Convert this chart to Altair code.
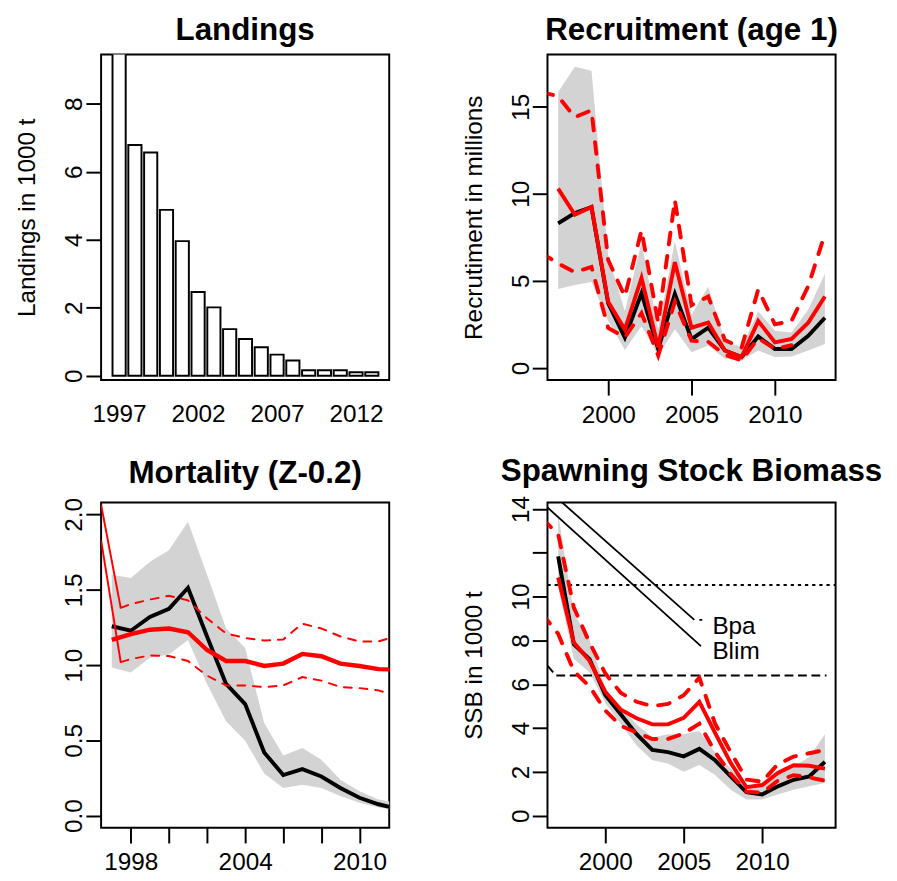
import altair as alt
import pandas as pd

FONT = "Liberation Sans"
FS = 24.8
RED = "#ff0000"
GREY = "#d3d3d3"

# ---------------- data ----------------
# Landings (1000 t)
land_years = list(range(1997, 2014))
landings = [13.0, 6.79, 6.57, 4.88, 3.96, 2.46, 2.01, 1.37, 1.08, 0.84, 0.62, 0.45, 0.16, 0.16, 0.16, 0.10, 0.10]

# Recruitment (millions)
rec_years = list(range(1997, 2014))
rec_black = [8.3, 8.9, 9.23, 3.72, 1.75, 4.29, 1.09, 4.25, 1.65, 2.31, 1.0, 0.62, 1.8, 1.09, 1.09, 1.84, 2.88]
rec_lo = [4.53, 4.76, 4.94, 2.69, 1.03, 2.4, 0.71, 2.22, 0.9, 1.28, 0.53, 0.43, 1.0, 0.62, 0.66, 1.0, 1.37]
rec_hi = [15.85, 17.3, 17.07, 6.45, 3.25, 7.2, 2.22, 7.29, 3.06, 4.66, 1.56, 1.18, 3.25, 2.13, 2.03, 3.35, 5.41]
rec_red = [10.3, 8.8, 9.25, 3.8, 2.2, 5.17, 1.18, 6.07, 2.31, 2.6, 1.0, 0.62, 2.69, 1.47, 1.66, 2.6, 4.1]
rec_red_up_years = list(range(1996, 2014))
rec_red_up = [15.85, 15.6, 14.4, 14.8, 6.2, 4.1, 7.9, 2.6, 9.64, 3.6, 4.1, 1.6, 1.15, 4.5, 2.5, 2.7, 4.7, 7.7]
rec_red_lo_years = list(range(1996, 2012))
rec_red_lo = [6.6, 6.0, 5.5, 5.8, 2.3, 1.75, 3.15, 0.71, 3.8, 1.56, 1.5, 0.75, 0.43, 1.7, 1.1, 1.3]

# Mortality (Z-0.2)
mort_years = list(range(1997, 2013))
mort_black = [1.258, 1.228, 1.319, 1.373, 1.513, 1.19, 0.875, 0.741, 0.42, 0.27, 0.309, 0.26, 0.184, 0.119, 0.076, 0.045]
mort_lo = [0.984, 0.951, 1.048, 1.07, 1.167, 0.875, 0.627, 0.497, 0.281, 0.184, 0.205, 0.184, 0.13, 0.086, 0.054, 0.035]
mort_hi = [1.6, 1.578, 1.686, 1.762, 1.952, 1.6, 1.243, 1.113, 0.616, 0.40, 0.45, 0.372, 0.238, 0.162, 0.108, 0.085]
mort_red = [1.167, 1.206, 1.235, 1.243, 1.218, 1.10, 1.027, 1.027, 0.994, 1.01, 1.074, 1.059, 1.01, 0.994, 0.973, 0.97]
mort_ci_years = [1997.47] + list(range(1998, 2013))
mort_red_up = [1.38, 1.405, 1.435, 1.46, 1.43, 1.31, 1.21, 1.18, 1.163, 1.17, 1.275, 1.243, 1.19, 1.157, 1.157, 1.195]
mort_red_lo = [1.02, 1.04, 1.064, 1.06, 1.027, 0.93, 0.865, 0.865, 0.854, 0.865, 0.92, 0.897, 0.854, 0.847, 0.832, 0.79]
mort_thin_years = [1996.44, 1997.47]
mort_thin_up = [2.064, 1.38]
mort_thin_lo = [1.827, 1.02]

# Spawning stock biomass (1000 t)
ssb_years = list(range(1997, 2015))
ssb_black = [11.84, 7.82, 7.15, 5.51, 4.62, 3.72, 3.0, 2.9, 2.71, 3.05, 2.53, 1.79, 1.07, 0.97, 1.34, 1.64, 1.79, 2.46]
ssb_lo = [10.43, 7.15, 6.55, 5.14, 4.17, 3.2, 2.53, 2.38, 2.01, 2.31, 1.86, 1.19, 0.74, 0.74, 0.97, 1.19, 1.34, 1.49]
ssb_hi = [13.78, 9.23, 8.04, 5.81, 4.91, 4.17, 3.57, 3.72, 3.72, 3.87, 2.9, 2.16, 1.34, 1.41, 1.94, 2.23, 2.68, 3.72]
ssb_red = [10.87, 7.9, 7.07, 5.66, 4.84, 4.45, 4.17, 4.17, 4.47, 5.2, 3.78, 2.4, 1.3, 1.4, 1.95, 2.3, 2.28, 2.15]
ssb_ci_years = list(range(1996, 2015))
ssb_red_up = [13.55, 12.85, 9.5, 7.9, 6.5, 5.6, 5.2, 5.0, 5.1, 5.5, 6.3, 4.2, 2.9, 1.65, 1.55, 2.35, 2.7, 2.85, 3.0]
ssb_red_lo = [9.2, 8.3, 6.6, 5.9, 4.8, 4.1, 3.8, 3.5, 3.5, 3.75, 4.2, 2.9, 1.9, 1.1, 1.05, 1.6, 1.85, 1.75, 1.6]
bpa_value = 10.53
blim_x = [1996.32, 1996.85, 2014.1]
blim_y = [6.85, 6.4, 6.4]
bpa_line_x = [1996.32, 2014.68]
diag_bpa_x = [1996.32, 2005.68]
diag_bpa_y = [14.89, 8.94]
diag_bpa_tick_x = [2006.0, 2006.18]
diag_bpa_tick_y = [8.94, 8.94]
diag_blim_x = [1996.32, 2006.1]
diag_blim_y = [14.07, 7.74]
ref_labels = ["Bpa", "Blim"]
ref_label_x = [2006.83, 2006.83]
ref_label_y = [8.31, 7.14]

W, H = 294, 332


def make_enc(xdom, xvals, ydom, yvals, yfmt, ytitle=None, xexpr=None, yexpr=None, xticks=True):
    def X(f):
        kw = dict(values=xvals, format="d", title=None, labelAngle=0, labelAlign="center",
                  labelBaseline="top", labelFlush=False, labelOverlap=False, grid=False, domain=False,
                  labelFont=FONT, labelFontSize=FS, labelColor="black", tickColor="black", tickWidth=2)
        if xticks:
            kw.update(ticks=True, tickSize=15.5, labelPadding=7.5)
        else:
            kw.update(ticks=False, tickSize=0, labelPadding=22.5)
        if xexpr:
            kw["labelExpr"] = xexpr
        return alt.X(f, type="quantitative",
                     scale=alt.Scale(domain=xdom, nice=False, zero=False),
                     axis=alt.Axis(**kw))

    def Y(f):
        kw = dict(values=yvals, format=yfmt, labelAngle=270, labelAlign="center",
                  labelBaseline="alphabetic", labelPadding=4, tickSize=15.5,
                  labelFlush=False, labelOverlap=False, grid=False, domain=False,
                  labelFont=FONT, labelFontSize=FS, labelColor="black", tickColor="black", tickWidth=2)
        if ytitle:
            kw.update(title=ytitle, titleX=-67.7, titleY=H / 2, titleAngle=270,
                      titleAlign="center", titleBaseline="alphabetic", titleFont=FONT,
                      titleFontSize=FS, titleFontWeight="normal", titleColor="black")
        else:
            kw["title"] = None
        if yexpr:
            kw["labelExpr"] = yexpr
        return alt.Y(f, type="quantitative",
                     scale=alt.Scale(domain=ydom, nice=False, zero=False),
                     axis=alt.Axis(**kw))
    return X, Y


def ttl(text):
    return alt.TitleParams(text, font=FONT, fontSize=32, fontWeight="bold", anchor="middle",
                           frame="group", offset=14.7, dy=31.8, baseline="alphabetic", color="black")


def line(df, X, Y, xf, yf, **mk):
    return alt.Chart(df).mark_line(clip=True, **mk).encode(x=X(xf), y=Y(yf))


def band(df, X, Y):
    return alt.Chart(df).mark_area(clip=True, color=GREY, opacity=1).encode(
        x=X("year"), y=Y("lo"), y2="hi")


# ---------------- panel 1: Landings ----------------
X1, Y1 = make_enc([1995.86, 2014.1], [1997, 2002, 2007, 2012], [-0.124, 9.45], [0, 2, 4, 6, 8], "d",
                  ytitle="Landings in 1000 t", xticks=False)
land_df = pd.DataFrame({"year": land_years, "landings": landings})
p1 = alt.Chart(land_df).transform_calculate(
    x0="datum.year - 0.4167", x1="datum.year + 0.4167"
).mark_bar(fill="white", stroke="black", strokeWidth=2, clip=True).encode(
    x=X1("x0"), x2="x1", y=Y1("landings"), y2=alt.datum(0)
).properties(width=W, height=H, title=ttl("Landings"))

# ---------------- panel 2: Recruitment ----------------
X2, Y2 = make_enc([1996.36, 2013.64], [2000, 2005, 2010], [-0.69, 18.0], [0, 5, 10, 15], "d",
                  ytitle="Recrutiment in millions")
rec_df = pd.DataFrame({"year": rec_years, "black": rec_black, "lo": rec_lo, "hi": rec_hi, "red": rec_red})
rec_up_df = pd.DataFrame({"year": rec_red_up_years, "v": rec_red_up})
rec_lo_df = pd.DataFrame({"year": rec_red_lo_years, "v": rec_red_lo})
p2 = alt.layer(
    band(rec_df, X2, Y2),
    line(rec_df, X2, Y2, "year", "black", color="black", strokeWidth=4),
    line(rec_df, X2, Y2, "year", "red", color=RED, strokeWidth=4),
    line(rec_up_df, X2, Y2, "year", "v", color=RED, strokeWidth=4, strokeDash=[12, 12], strokeCap="round"),
    line(rec_lo_df, X2, Y2, "year", "v", color=RED, strokeWidth=4, strokeDash=[12, 12], strokeCap="round"),
).properties(width=W, height=H, title=ttl("Recruitment (age 1)"))

# ---------------- panel 3: Mortality ----------------
X3, Y3 = make_enc([1996.44, 2011.56], [1998, 2000, 2002, 2004, 2006, 2008, 2010], [-0.08, 2.08],
                  [0, 0.5, 1.0, 1.5, 2.0], ".1f",
                  xexpr="(datum.value == 1998 || datum.value == 2004 || datum.value == 2010) ? datum.label : ''")
mort_df = pd.DataFrame({"year": mort_years, "black": mort_black, "lo": mort_lo, "hi": mort_hi, "red": mort_red})
mort_ci_df = pd.DataFrame({"year": mort_ci_years, "up": mort_red_up, "lo": mort_red_lo})
mort_thin_df = pd.DataFrame({"year": mort_thin_years, "up": mort_thin_up, "lo": mort_thin_lo})
p3 = alt.layer(
    band(mort_df, X3, Y3),
    line(mort_df, X3, Y3, "year", "black", color="black", strokeWidth=4),
    line(mort_df, X3, Y3, "year", "red", color=RED, strokeWidth=4.5),
    line(mort_thin_df, X3, Y3, "year", "up", color=RED, strokeWidth=2),
    line(mort_thin_df, X3, Y3, "year", "lo", color=RED, strokeWidth=2),
    line(mort_ci_df, X3, Y3, "year", "up", color=RED, strokeWidth=2, strokeDash=[8, 8], strokeCap="round"),
    line(mort_ci_df, X3, Y3, "year", "lo", color=RED, strokeWidth=2, strokeDash=[8, 8], strokeCap="round"),
).properties(width=W, height=H, title=ttl("Mortality (Z-0.2)"))

# ---------------- panel 4: SSB ----------------
X4, Y4 = make_enc([1996.32, 2014.68], [2000, 2005, 2010], [-0.55, 14.3], [0, 2, 4, 6, 8, 10, 12, 14], "d",
                  ytitle="SSB in 1000 t", yexpr="datum.value == 12 ? '' : datum.label")
ssb_df = pd.DataFrame({"year": ssb_years, "black": ssb_black, "lo": ssb_lo, "hi": ssb_hi, "red": ssb_red})
ssb_ci_df = pd.DataFrame({"year": ssb_ci_years, "up": ssb_red_up, "lo": ssb_red_lo})
bpa_df = pd.DataFrame({"year": bpa_line_x, "v": [bpa_value] * len(bpa_line_x)})
blim_df = pd.DataFrame({"year": blim_x, "v": blim_y})
dpa_df = pd.DataFrame({"year": diag_bpa_x, "v": diag_bpa_y})
dpa_tick_df = pd.DataFrame({"year": diag_bpa_tick_x, "v": diag_bpa_tick_y})
dlim_df = pd.DataFrame({"year": diag_blim_x, "v": diag_blim_y})
lab_df = pd.DataFrame({"year": ref_label_x, "v": ref_label_y, "label": ref_labels})
p4 = alt.layer(
    band(ssb_df, X4, Y4),
    line(bpa_df, X4, Y4, "year", "v", color="black", strokeWidth=2, strokeDash=[3.3, 4]),
    line(blim_df, X4, Y4, "year", "v", color="black", strokeWidth=2, strokeDash=[9, 4.7]),
    line(dpa_df, X4, Y4, "year", "v", color="black", strokeWidth=1.8),
    line(dpa_tick_df, X4, Y4, "year", "v", color="black", strokeWidth=1.8),
    line(dlim_df, X4, Y4, "year", "v", color="black", strokeWidth=1.8),
    line(ssb_df, X4, Y4, "year", "black", color="black", strokeWidth=4),
    line(ssb_df, X4, Y4, "year", "red", color=RED, strokeWidth=4),
    line(ssb_ci_df, X4, Y4, "year", "up", color=RED, strokeWidth=4, strokeDash=[12, 12], strokeCap="round"),
    line(ssb_ci_df, X4, Y4, "year", "lo", color=RED, strokeWidth=4, strokeDash=[12, 12], strokeCap="round"),
    alt.Chart(lab_df).mark_text(align="left", baseline="alphabetic", font=FONT, fontSize=FS,
                                color="black", clip=False).encode(
        x=X4("year"), y=Y4("v"), text="label:N"),
).properties(width=W, height=H, title=ttl("Spawning Stock Biomass"))

chart = alt.concat(
    p1, p2, p3, p4, columns=2, spacing={"row": 125, "column": 161.5}, bounds="flush"
).properties(
    padding={"left": 6, "top": -3.5, "right": 5, "bottom": 5}, background="white"
).configure_view(
    stroke="black", strokeWidth=2
).configure_axis(
    domain=False, grid=False, tickColor="black", tickWidth=2,
    labelFont=FONT, labelFontSize=FS, labelColor="black",
    titleFont=FONT, titleFontSize=FS, titleFontWeight="normal", titleColor="black"
)

chart.save("out.html", embed_options={"renderer": "svg", "actions": False})
